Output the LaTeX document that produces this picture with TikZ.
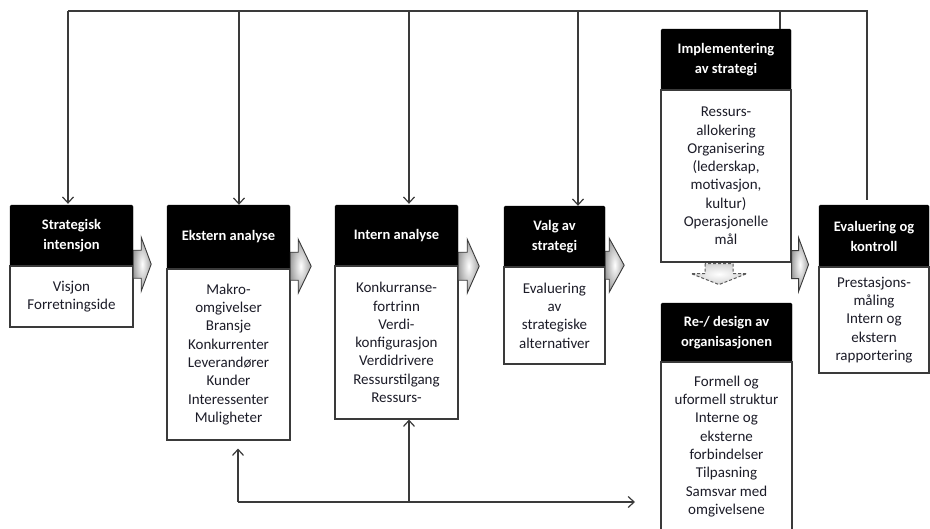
\documentclass[tikz,border=0pt]{standalone}
\usepackage{fontspec}
\setmainfont{Carlito}
\usetikzlibrary{arrows.meta}
\definecolor{lineclr}{HTML}{3A3A3A}
\definecolor{ink}{HTML}{1C1C28}
\tikzset{
  hdr/.style={fill=black, draw=black, rounded corners=1.5pt, text=white, inner sep=0pt,
    align=center, font=\bfseries\fontsize{14.5}{20}\selectfont},
  bodybox/.style={draw=lineclr, line width=1.1pt, fill=white, inner sep=0pt,
    align=center, text=ink, font=\fontsize{15}{18.3}\selectfont},
  conn/.style={draw=lineclr, line width=1.2pt},
  arr/.style={-{Straight Barb[length=6pt,width=11pt]}},
  blockarrow/.style={draw=lineclr, line width=0.9pt, inner color=white, outer color=gray!75},
  dasharrow/.style={draw=gray!70!black, dash pattern=on 3pt off 2pt, line width=1pt,
    inner color=white, outer color=gray!35},
}
% block arrow: #1 anchor on the box edge, #2 vertical offset of the centre line,
% #3 shaft length, #4 head length
\newcommand{\blockarr}[4]{%
  \path[blockarrow] ([shift={(0,#2-14)}]#1) -- ++(#3,0) -- ++(0,-13) -- ++(#4,27)
    -- ++(-#4,27) -- ++(0,-13) -- ++(-#3,0) -- cycle;}
\begin{document}
\begin{tikzpicture}[x=1pt,y=-1pt]
\useasboundingbox (0,0) rectangle (930,528);

% process boxes: black header over a white body
\node[hdr, minimum width=123pt, minimum height=61pt] (h1) at (71.5,235.5) {Strategisk\\intensjon};
\node[bodybox, minimum width=123pt, minimum height=61pt] (b1) at (71.5,296.5) {Visjon\\Forretningside};

\node[hdr, minimum width=123pt, minimum height=64pt] (h2) at (228.5,237) {Ekstern analyse};
\node[bodybox, minimum width=123pt, minimum height=171pt] (b2) at (228.5,354.5)
  {Makro-\\omgivelser\\Bransje\\Konkurrenter\\Leverandører\\Kunder\\Interessenter\\Muligheter};

\node[hdr, minimum width=123pt, minimum height=61pt] (h3) at (396.5,235.5) {Intern analyse};
\node[bodybox, minimum width=123pt, minimum height=153pt] (b3) at (396.5,342.5)
  {Konkurranse-\\fortrinn\\Verdi-\\konfigurasjon\\Verdidrivere\\Ressurstilgang\\Ressurs-};

\node[hdr, minimum width=101pt, minimum height=61pt] (h4) at (554.5,236.5) {Valg av\\strategi};
\node[bodybox, minimum width=101pt, minimum height=97pt] (b4) at (554.5,315.5)
  {Evaluering\\av\\strategiske\\alternativer};

\node[hdr, minimum width=130pt, minimum height=61pt] (h5) at (726,59.5) {Implementering\\av strategi};
\node[bodybox, minimum width=130pt, minimum height=172pt] (b5) at (726,176)
  {Ressurs-\\allokering\\Organisering\\(lederskap,\\motivasjon,\\kultur)\\Operasjonelle\\mål};

\node[hdr, minimum width=131pt, minimum height=59pt] (h6) at (726.5,332.5) {Re-/ design av\\organisasjonen};
\node[bodybox, minimum width=131pt, minimum height=169pt] (b6) at (726.5,446.5)
  {Formell og\\uformell struktur\\Interne og\\eksterne\\forbindelser\\Tilpasning\\Samsvar med\\omgivelsene};

\node[hdr, minimum width=110pt, minimum height=62pt] (h7) at (874,236) {Evaluering og\\kontroll};
\node[bodybox, minimum width=110pt, minimum height=106pt] (b7) at (874,320)
  {Prestasjons-\\måling\\Intern og\\ekstern\\rapportering};

% flow arrows between the stages
\blockarr{h1.south east}{-2}{8}{10}
\blockarr{h2.south east}{-3}{8}{13}
\blockarr{h3.south east}{0}{9}{12}
\blockarr{h4.south east}{-2}{4}{15}
\blockarr{b5.south east}{2}{7}{10}
\path[dasharrow] ([shift={(-21,1)}]b5.south) -- ++(0,10) -- ++(-14,0) -- ++(28,11)
  -- ++(28,-11) -- ++(-14,0) -- ++(0,-10) -- cycle;

% feedback loop along the top
\coordinate (tl) at (68,11);
\coordinate (tr) at (867,11);
\coordinate (t2) at (239,11);
\coordinate (t3) at (409,11);
\coordinate (t4) at (578,11);
\coordinate (t5) at (780,11);
\path (h7.north -| tr) ++(0,-5) coordinate (fb);
\draw[conn] (fb) -- (tr) -- (tl);
\draw[conn,arr,shorten >=1pt] (tl) -- (tl |- h1.north);
\draw[conn,arr] (t2) -- (t2 |- h2.north);
\draw[conn,arr,shorten >=1pt] (t3) -- (t3 |- h3.north);
\draw[conn,arr] (t4) -- (t4 |- h4.north);
\draw[conn] (t5) -- (t5 |- h5.north);

% links along the bottom
\coordinate (bl) at (238,502);
\coordinate (bj) at (409,502);
\coordinate (br) at (635,502);
\draw[conn,arr] (bl) -- (br);
\draw[conn,arr,shorten >=8pt] (bl) -- (bl |- b2.south);
\draw[conn,arr] (bj) -- (bj |- b3.south);
\end{tikzpicture}
\end{document}
